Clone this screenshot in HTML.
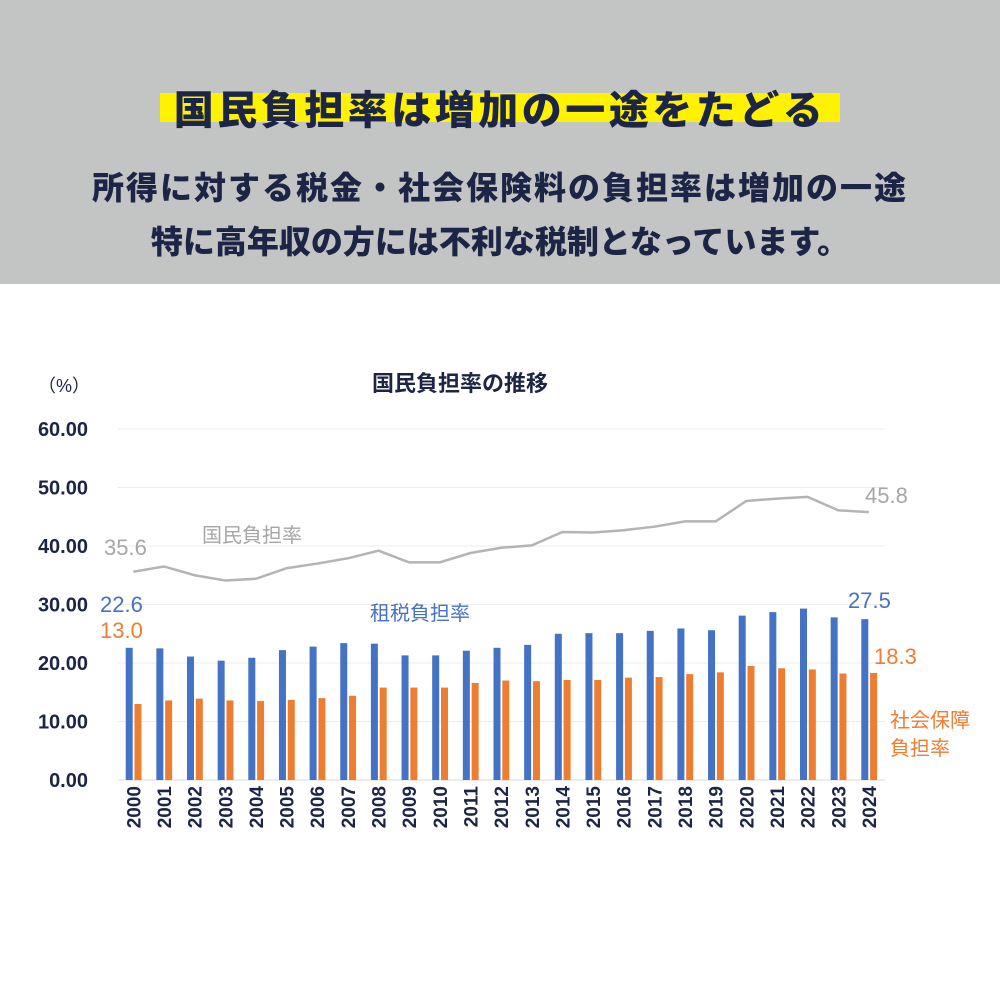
<!DOCTYPE html>
<html><head><meta charset="utf-8"><style>
body{margin:0;width:1000px;height:1000px;background:#fff;overflow:hidden;font-family:"Liberation Sans","Noto Sans CJK JP",sans-serif}
.hdr{position:absolute;left:0;top:0;width:1000px;height:284px;background:#c2c5c4}
.t{position:absolute;left:0;width:1000px;text-align:center;font-weight:900;color:#1c2545;white-space:nowrap}
.yb{position:absolute;left:160px;top:93px;width:680px;height:29px;background:#fff200}
</style></head><body>
<div class="hdr">
<div class="yb"></div>
<div class="t" style="top:78px;font-size:40px;letter-spacing:3.5px">国民負担率は増加の一途をたどる</div>
<div class="t" style="top:163px;font-size:32px;letter-spacing:2px">所得に対する税金・社会保険料の負担率は増加の一途</div>
<div class="t" style="top:217px;font-size:32px;letter-spacing:0px">特に高年収の方には不利な税制となっています。</div>
</div>
<svg id="chart" width="1000" height="1000" style="position:absolute;left:0;top:0"></svg>
<script>
const years=["2000","2001","2002","2003","2004","2005","2006","2007","2008","2009","2010","2011","2012","2013","2014","2015","2016","2017","2018","2019","2020","2021","2022","2023","2024"];
const taxValues=[22.6,22.5,21.1,20.4,20.9,22.2,22.8,23.4,23.3,21.3,21.3,22.1,22.6,23.1,25.0,25.1,25.1,25.5,25.9,25.6,28.1,28.7,29.3,27.8,27.5];
const socialValues=[13.0,13.6,13.9,13.6,13.5,13.7,14.0,14.4,15.8,15.8,15.8,16.6,17.0,16.9,17.1,17.1,17.5,17.6,18.1,18.4,19.5,19.1,18.9,18.2,18.3];
const totalValues=[35.6,36.5,35.0,34.1,34.4,36.2,37.0,37.9,39.2,37.2,37.2,38.8,39.7,40.1,42.4,42.3,42.7,43.3,44.2,44.2,47.7,48.1,48.4,46.1,45.8];
const yTicks=[0,10,20,30,40,50,60];
const NS="http://www.w3.org/2000/svg";
const svg=document.getElementById('chart');
const y0=780,yPer=5.85,x0=133.3,step=30.65;
const Y=v=>y0-v*yPer;
const X=i=>x0+i*step;
function mk(t,a,txt){const e=document.createElementNS(NS,t);for(const k in a)e.setAttribute(k,a[k]);if(txt!==undefined)e.textContent=txt;svg.appendChild(e);return e;}
yTicks.forEach(v=>{
 const g=mk('line',{x1:118,x2:885,y1:Y(v),y2:Y(v),stroke:v===0?'#d9d9d9':'#ececec','stroke-width':1});
 
 
 const t=mk('text',{x:88,y:Y(v)+7,'text-anchor':'end','font-size':20,'font-weight':'bold',fill:'#1c2545'},v.toFixed(2));
 
 
});
years.forEach((yr,i)=>{
 const b=mk('rect',{x:X(i)-7.6,y:Y(taxValues[i]),width:7,height:taxValues[i]*yPer,fill:'#4472c4'});
 
 
 const o=mk('rect',{x:X(i)+1.2,y:Y(socialValues[i]),width:7,height:socialValues[i]*yPer,fill:'#ed7d31'});
 
 
 const t=mk('text',{x:0,y:0,transform:`translate(${X(i)+7},786) rotate(-90)`,'text-anchor':'end','font-size':19,'font-weight':'bold',fill:'#1c2545'},yr);
 
 
});
const ln=mk('polyline',{points:totalValues.map((v,i)=>X(i)+','+Y(v)).join(' '),fill:'none',stroke:'#b4b4b4','stroke-width':2.5});


function lab(x,y,txt,col,sz,name,anc){const t=mk('text',{x:x,y:y,'font-size':sz,fill:col,'text-anchor':anc||'start'},txt);
 
 return t;}
lab(38,392,'（%）','#1c2545',18,'y-axis-unit');
const ct=lab(460,391,'国民負担率の推移','#1c2545',22,'chart-title','middle');ct.setAttribute('font-weight','bold');
lab(104,555,totalValues[0].toFixed(1),'#a6a6a6',22,'total-first-value');
lab(865,503,totalValues[24].toFixed(1),'#a6a6a6',22,'total-last-value');
lab(202,542,'国民負担率','#a6a6a6',20,'total-series-label');
lab(100,612,taxValues[0].toFixed(1),'#4472c4',22,'tax-first-value');
lab(100,638,socialValues[0].toFixed(1),'#ed7d31',22,'social-first-value');
lab(848,608,taxValues[24].toFixed(1),'#4472c4',22,'tax-last-value');
lab(874,664,socialValues[24].toFixed(1),'#ed7d31',22,'social-last-value');
lab(370,620,'租税負担率','#4472c4',20,'tax-series-label');
lab(890,727,'社会保障','#ed7d31',20,'social-series-label-1');
lab(890,755,'負担率','#ed7d31',20,'social-series-label-2');
</script>
</body></html>
